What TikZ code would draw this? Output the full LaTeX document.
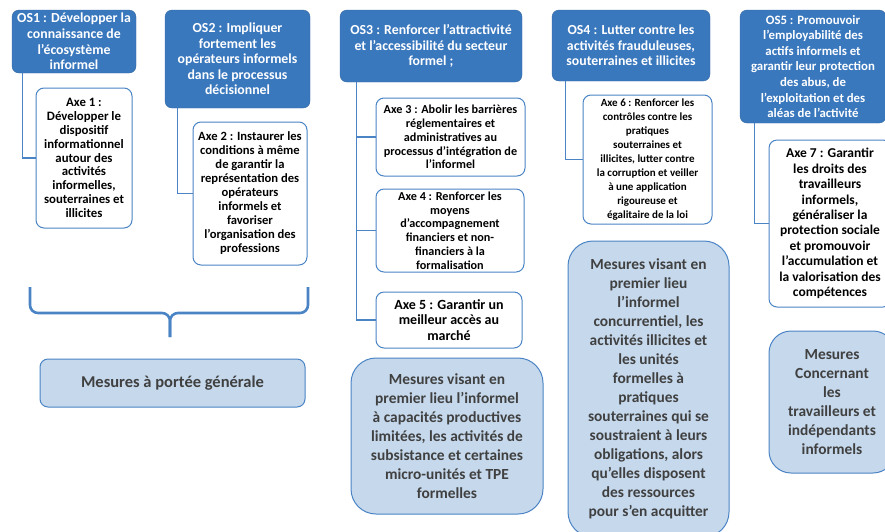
\documentclass[tikz,border=0pt]{standalone}
\usepackage{fontspec}
\setmainfont{Carlito}
\usetikzlibrary{positioning, calc}

\definecolor{osblue}{HTML}{3A78BE}
\definecolor{linkblue}{HTML}{4A84C4}
\definecolor{mesfill}{HTML}{C5D8EC}
\definecolor{mestext}{HTML}{404040}

\tikzset{
	osbox/.style={draw=osblue!85!black, fill=osblue, rounded corners=7pt, text=white, align=center, inner sep=1pt, font=\fontsize{13.8}{15.6}\selectfont\bfseries},
	axebox/.style={draw=linkblue, fill=white, line width=1pt, rounded corners=8pt, align=center, inner sep=1pt, font=\fontsize{12.2}{13.8}\selectfont\bfseries},
	mesbox/.style={draw=linkblue, fill=mesfill, line width=1pt, text=mestext, align=center, inner sep=1pt, font=\fontsize{15.4}{19}\selectfont\bfseries},
	link/.style={draw=linkblue, line width=1.3pt},
	brace/.style={draw=linkblue, line width=2.6pt, rounded corners=8pt},
}

\begin{document}
\begin{tikzpicture}[x=1pt, y=-1pt]

	\useasboundingbox (0,0) rectangle (885,531);

	% objectifs strategiques
	\node[osbox, minimum width=124pt, minimum height=63pt] (os1) at (74,41.5) {OS1 : Développer la\\connaissance de\\l’écosystème\\informel};
	\node[osbox, minimum width=145pt, minimum height=98pt] (os2) at (237.5,59) {OS2 : Impliquer\\fortement les\\opérateurs informels\\dans le processus\\décisionnel};
	\node[osbox, minimum width=182pt, minimum height=72pt] (os3) at (431,46) {OS3 : Renforcer l’attractivité\\et l’accessibilité du secteur\\formel ;};
	\node[osbox, minimum width=158pt, minimum height=71pt] (os4) at (631,45.5) {OS4 : Lutter contre les\\activités frauduleuses,\\souterraines et illicites};
	\node[osbox, minimum width=146pt, minimum height=113pt, font=\fontsize{12.8}{15.6}\selectfont\bfseries] (os5) at (813,66.5) {OS5 : Promouvoir\\l’employabilité des\\actifs informels et\\garantir leur protection\\des abus, de\\l’exploitation et des\\aléas de l’activité};

	% axes
	\node[axebox, minimum width=96pt, minimum height=140pt, font=\fontsize{12.8}{13.8}\selectfont\bfseries] (axe1) at (84,158) {Axe 1 :\\Développer le\\dispositif\\informationnel\\autour des\\activités\\informelles,\\souterraines et\\illicites};
	\node[axebox, minimum width=114pt, minimum height=143pt, font=\fontsize{12.6}{14}\selectfont\bfseries] (axe2) at (250,193.5) {Axe 2 : Instaurer les\\conditions à même\\de garantir la\\représentation des\\opérateurs\\informels et\\favoriser\\l’organisation des\\professions};
	\node[axebox, minimum width=149pt, minimum height=78pt] (axe3) at (450.5,137) {Axe 3 : Abolir les barrières\\réglementaires et\\administratives au\\processus d’intégration de\\l’informel};
	\node[axebox, minimum width=148pt, minimum height=83pt] (axe4) at (450,230.5) {Axe 4 : Renforcer les\\moyens\\d’accompagnement\\financiers et non-\\financiers à la\\formalisation};
	\node[axebox, minimum width=146pt, minimum height=56pt, font=\fontsize{14}{15.2}\selectfont\bfseries] (axe5) at (449,320) {Axe 5 : Garantir un\\meilleur accès au\\marché};
	\node[axebox, minimum width=129pt, minimum height=129pt, font=\fontsize{11}{14}\selectfont\bfseries] (axe6) at (647.5,159.5) {Axe 6 : Renforcer les\\contrôles contre les\\pratiques\\souterraines et\\illicites, lutter contre\\la corruption et veiller\\à une application\\rigoureuse et\\égalitaire de la loi};
	\node[axebox, minimum width=122pt, minimum height=167pt, font=\fontsize{13.5}{15.4}\selectfont\bfseries] (axe7) at (830,223.5) {Axe 7 : Garantir\\les droits des\\travailleurs\\informels,\\généraliser la\\protection sociale\\et promouvoir\\l’accumulation et\\la valorisation des\\compétences};

	% liaisons
	\draw[link] ([xshift=11pt]os1.south west) |- (axe1.west);
	\draw[link] ([xshift=13pt]os2.south west) |- (axe2.west);
	\draw[link] ([xshift=17pt]os3.south west) |- (axe5.west);
	\draw[link] ([xshift=17pt]os3.south west) |- (axe3.west);
	\draw[link] ([xshift=17pt]os3.south west) |- (axe4.west);
	\draw[link] ([xshift=14pt]os4.south west) |- (axe6.west);
	\draw[link] ([xshift=15pt]os5.south west) |- (axe7.west);

	% accolade
	\coordinate (BL) at (30,287);
	\coordinate (BR) at (308,287);
	\coordinate (BT) at (170,337);
	\draw[brace] (BL) -- (BL |- 0,313) -- (BT |- 0,313) -- (BT);
	\draw[brace] (BR) -- (BR |- 0,313) -- (BT |- 0,313) -- (BT);

	% mesures
	\node[mesbox, rounded corners=8pt, minimum width=265pt, minimum height=48pt, font=\fontsize{16.5}{19}\selectfont\bfseries] (mes1) at (172.5,383) {Mesures à portée générale};
	\node[mesbox, rounded corners=25pt, minimum width=192pt, minimum height=156pt] (mes2) at (447,436) {Mesures visant en\\premier lieu l’informel\\à capacités productives\\limitées, les activités de\\subsistance et certaines\\micro-unités et TPE\\formelles};
	\node[mesbox, rounded corners=25pt, minimum width=161pt, minimum height=296pt] (mes3) at (648.5,389) {Mesures visant en\\premier lieu\\l’informel\\concurrentiel, les\\activités illicites et\\les unités\\formelles à\\pratiques\\souterraines qui se\\soustraient à leurs\\obligations, alors\\qu’elles disposent\\des ressources\\pour s’en acquitter};
	\node[mesbox, rounded corners=22pt, minimum width=126pt, minimum height=142pt] (mes4) at (832,402) {Mesures\\Concernant\\les\\travailleurs et\\indépendants\\informels};

\end{tikzpicture}
\end{document}
